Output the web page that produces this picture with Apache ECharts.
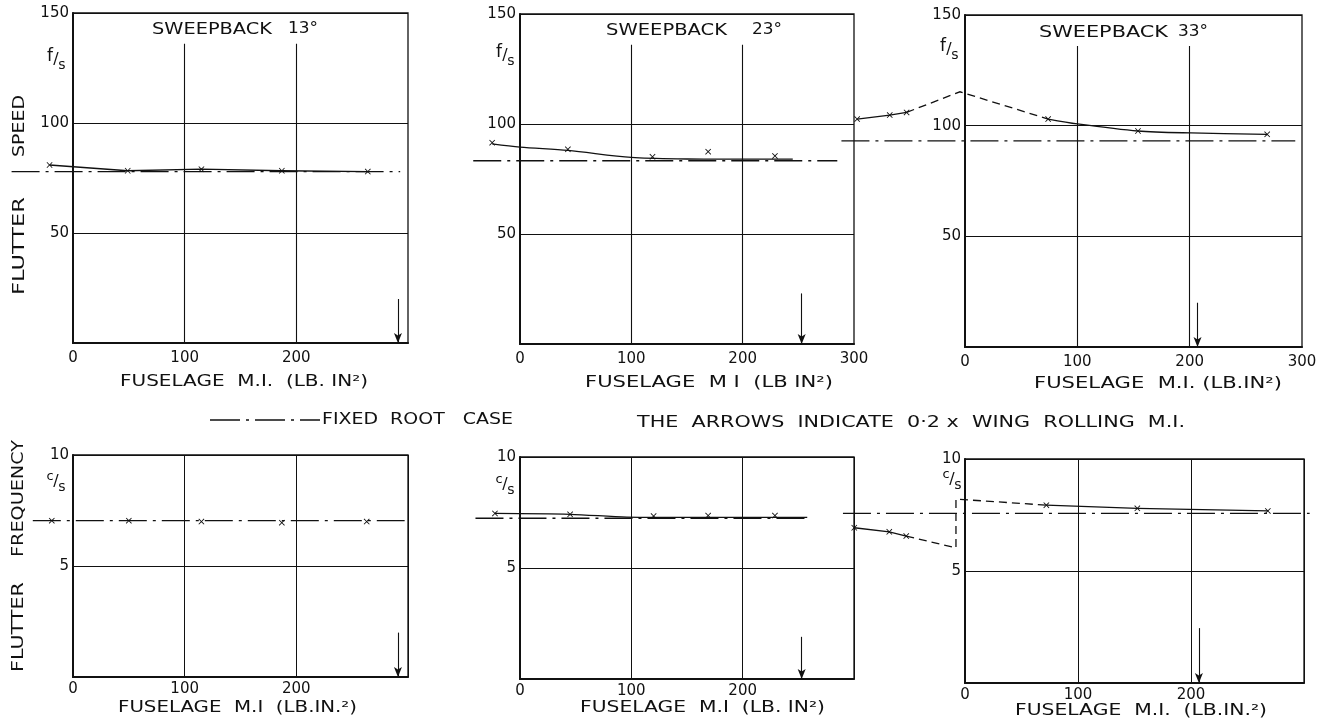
<!DOCTYPE html>
<html><head><meta charset="utf-8">
<script src="https://cdn.jsdelivr.net/npm/echarts@6/dist/echarts.min.js"></script>
<style>html,body{margin:0;padding:0;background:#fff}#c{width:1335px;height:726px}</style>
</head><body><div id="c"></div>
<script>
// ---------------- data ----------------
const xTicks = [0, 100, 200, 300];
const speedTicks = [0, 50, 100, 150];
const freqTicks = [0, 5, 10];
const sweepAngles = ['13°', '23°', '33°'];
const arrowMI = [291, 253, 207];          // 0.2 x wing rolling M.I.
const arrowLenSpeed = [20, 23, 20];
const arrowLenFreq = [2.0, 1.9, 2.45];

// fixed root case (constant)
const fixedRootSpeed = [77.9, 83.3, 93.1];
const fixedRootSpeedFrom = [-55, -42, -110];
const fixedRootSpeedTo = [293, 285, 294];
const fixedRootFreq = [7.04, 7.24, 7.57];
const fixedRootFreqFrom = [-36, -40, -108];
const fixedRootFreqTo = [297, 258, 305];

// sweepback 13
const s13SpeedMI = [-21, 49, 115, 187, 264];
const s13Speed = [80.9, 78.3, 79.0, 78.3, 77.9];
const s13FreqMI = [-19, 50, 115, 187, 263];
const s13Freq = [7.04, 7.04, 7.0, 6.95, 7.0];

// sweepback 23
const s23SpeedMI = [-25, 43, 119, 169, 229];
const s23Speed = [91.5, 88.5, 85.1, 87.4, 85.5];
const s23SpeedCurveMI = [-25, 0, 43, 100, 150, 200, 245];
const s23SpeedCurve = [91.0, 89.5, 88.0, 84.8, 84.1, 84.0, 84.0];
const s23FreqMI = [-22.5, 45, 120, 169, 229];
const s23Freq = [7.46, 7.42, 7.34, 7.36, 7.36];
const s23FreqCurveMI = [-22.5, 45, 96, 150, 200, 258];
const s23FreqCurve = [7.46, 7.42, 7.29, 7.28, 7.28, 7.28];

// sweepback 33
const s33SpeedLowMI = [-96, -67, -52];
const s33SpeedLow = [103.0, 104.8, 106.0];
const s33SpeedDashMI = [-52, -4.5, 74];
const s33SpeedDash = [106.0, 115.3, 103.0];
const s33SpeedMI = [74, 154, 269];
const s33Speed = [103.0, 97.6, 96.1];
const s33SpeedCurveMI = [74, 100, 154, 201, 269];
const s33SpeedCurve = [103.0, 100.8, 97.6, 96.7, 96.1];
const s33FreqLowMI = [-98, -67, -52];
const s33FreqLow = [6.93, 6.75, 6.56];
const s33FreqDashMI = [-52, -8, -8, 72];
const s33FreqDash = [6.56, 6.03, 8.21, 7.94];
const s33FreqMI = [72, 152.5, 268];
const s33Freq = [7.94, 7.80, 7.68];

// ---------------- helpers ----------------
const INK = '#111';
const FONT = '"DejaVu Sans", sans-serif';
const XMARK = 'path://M0,1L1,0L5,4L9,0L10,1L6,5L10,9L9,10L5,6L1,10L0,9L4,5Z';
const DASHDOT = [28, 6, 3, 6];
const DASH = [8, 5];
const zip = (a, b) => a.map((v, i) => [v, b[i]]);

// polyline drawn through the axes' scales (api.coord), not clipped to the grid
function poly(i, xs, ys, dash, smooth) {
  return {
    type: 'custom', xAxisIndex: i, yAxisIndex: i, data: zip(xs, ys),
    clip: false, silent: true, z: 3,
    renderItem: function (params, api) {
      if (params.dataIndex !== 0) return null;
      const pts = xs.map((x, k) => api.coord([x, ys[k]]));
      return {
        type: 'polyline',
        shape: { points: pts, smooth: smooth || 0 },
        style: { stroke: INK, lineWidth: 1.3, fill: null, lineDash: dash || null }
      };
    }
  };
}
function marks(i, xs, ys) {
  return {
    type: 'scatter', xAxisIndex: i, yAxisIndex: i, data: zip(xs, ys),
    symbol: XMARK, symbolSize: 6, clip: false, silent: true, z: 4,
    itemStyle: { color: INK, opacity: 1 }
  };
}
function arrowItem(x, len) {
  return [{ coord: [x, len], symbol: 'none' },
          { coord: [x, 0], symbol: 'arrow', symbolSize: [6, 10] }];
}
function gridItem(x, top) {
  return [{ coord: [x, 0], symbol: 'none' }, { coord: [x, top], symbol: 'none' }];
}
function markHolder(i, ml) {
  return {
    type: 'line', xAxisIndex: i, yAxisIndex: i, data: [], symbol: 'none', silent: true,
    markLine: {
      silent: true, animation: false, label: { show: false },
      lineStyle: { color: INK, width: 1.1, type: 'solid' },
      emphasis: { disabled: true },
      data: ml
    }
  };
}

const gridTopVal = 136;
const series = [];
for (let k = 0; k < 3; k++) {
  const ml = [];
  xTicks.slice(1, 3).forEach(t => ml.push(gridItem(t, gridTopVal)));
  ml.push(arrowItem(arrowMI[k], arrowLenSpeed[k]));
  series.push(markHolder(k, ml));
  series.push(poly(k, [fixedRootSpeedFrom[k], fixedRootSpeedTo[k]], [fixedRootSpeed[k], fixedRootSpeed[k]], DASHDOT));
  series.push(markHolder(3 + k, [arrowItem(arrowMI[k], arrowLenFreq[k])]));
  series.push(poly(3 + k, [fixedRootFreqFrom[k], fixedRootFreqTo[k]], [fixedRootFreq[k], fixedRootFreq[k]], DASHDOT));
}
// sweepback 13
series.push(poly(0, s13SpeedMI, s13Speed));
series.push(marks(0, s13SpeedMI, s13Speed));
series.push(marks(3, s13FreqMI, s13Freq));
// sweepback 23
series.push(poly(1, s23SpeedCurveMI, s23SpeedCurve, null, 0.3));
series.push(marks(1, s23SpeedMI, s23Speed));
series.push(poly(4, s23FreqCurveMI, s23FreqCurve, null, 0.3));
series.push(marks(4, s23FreqMI, s23Freq));
// sweepback 33
series.push(poly(2, s33SpeedLowMI, s33SpeedLow));
series.push(poly(2, s33SpeedDashMI, s33SpeedDash, DASH));
series.push(poly(2, s33SpeedCurveMI, s33SpeedCurve, null, 0.3));
series.push(marks(2, s33SpeedLowMI, s33SpeedLow));
series.push(marks(2, s33SpeedMI, s33Speed));
series.push(poly(5, s33FreqLowMI, s33FreqLow));
series.push(poly(5, s33FreqDashMI, s33FreqDash, DASH));
series.push(poly(5, s33FreqMI, s33Freq));
series.push(marks(5, s33FreqLowMI, s33FreqLow));
series.push(marks(5, s33FreqMI, s33Freq));

// ---------------- layout ----------------
const grids = [
  { left: 73, top: 13, width: 335, height: 330 },
  { left: 520, top: 14, width: 334, height: 330 },
  { left: 965, top: 15, width: 337, height: 332 },
  { left: 73, top: 455, width: 335, height: 222 },
  { left: 520, top: 457, width: 334, height: 222 },
  { left: 965, top: 459, width: 339, height: 224 }
].map(g => Object.assign(g, { show: true, borderColor: INK, borderWidth: 1.3, backgroundColor: 'transparent', containLabel: false, outerBoundsMode: 'none' }));

const xAxes = grids.map((g, i) => ({
  type: 'value', gridIndex: i, min: xTicks[0], max: xTicks[xTicks.length - 1], interval: 100,
  axisLine: { show: true, onZero: false, lineStyle: { color: INK, width: 2 } },
  axisTick: { show: false },
  splitLine: { show: i >= 3, lineStyle: { color: INK, width: 1, type: 'solid' } },
  axisLabel: {
    color: INK, fontFamily: FONT, fontSize: 15, margin: i < 3 ? 8 : 5,
    showMinLabel: true, showMaxLabel: (i === 1 || i === 2)
  }
}));
const yAxes = grids.map((g, i) => {
  const ticks = i < 3 ? speedTicks : freqTicks;
  return {
    type: 'value', gridIndex: i, min: ticks[0], max: ticks[ticks.length - 1],
    interval: ticks[1] - ticks[0],
    axisLine: { show: true, onZero: false, lineStyle: { color: INK, width: 2 } },
    axisTick: { show: false },
    splitLine: { show: true, lineStyle: { color: INK, width: 1, type: 'solid' } },
    axisLabel: { color: INK, fontFamily: FONT, fontSize: 15, margin: 4, showMinLabel: false }
  };
});

// ---------------- texts ----------------
const mctx = document.createElement('canvas').getContext('2d');
function baseStyle(s, size) {
  const f = size + 'px ' + FONT;
  return { text: s, font: f, fill: INK, align: 'center', verticalAlign: 'middle',
           textAlign: 'center', textVerticalAlign: 'middle' };
}
function fitScale(s, size, span) {
  mctx.font = size + 'px ' + FONT;
  return span / mctx.measureText(s).width;
}
function T(s, x1, x2, y, size) {
  return { type: 'text', x: (x1 + x2) / 2, y: y, scaleX: fitScale(s, size, x2 - x1),
           z: 100, silent: true, style: baseStyle(s, size) };
}
function V(s, x, y1, y2, size) {
  return { type: 'text', x: x, y: (y1 + y2) / 2, rotation: Math.PI / 2,
           scaleX: fitScale(s, size, y2 - y1), z: 100, silent: true, style: baseStyle(s, size) };
}
function P(s, x, y, size) {
  return { type: 'text', x: x, y: y, z: 100, silent: true, style: baseStyle(s, size) };
}
function frac(a, b, x, y, big) {
  return [P(a, x - 6, y - (big ? 3 : 5), big ? 17 : 13), P('/', x, y, 16), P(b, x + 6, y + 5, 14)];
}

const graphics = [
  T('SWEEPBACK', 152, 272, 30, 15), T(sweepAngles[0], 288, 318, 29, 15),
  T('SWEEPBACK', 606, 727, 31, 15), T(sweepAngles[1], 752, 782, 30, 15),
  T('SWEEPBACK', 1039, 1168, 33, 15), T(sweepAngles[2], 1178, 1208, 32, 15),
  V('SPEED', 20, 95, 157, 15), V('FLUTTER', 20, 197, 295, 15),
  V('FREQUENCY', 19, 440, 557, 15), V('FLUTTER', 19, 582, 672, 15),
  T('FUSELAGE  M.I.  (LB. IN²)', 120, 368, 382, 15),
  T('FUSELAGE  M I  (LB IN²)', 585, 833, 383, 15),
  T('FUSELAGE  M.I. (LB.IN²)', 1034, 1282, 384, 15),
  T('FUSELAGE  M.I  (LB.IN.²)', 118, 357, 708, 15),
  T('FUSELAGE  M.I  (LB. IN²)', 580, 825, 708, 15),
  T('FUSELAGE  M.I.  (LB.IN.²)', 1015, 1267, 711, 15),
  T('FIXED  ROOT   CASE', 322, 513, 420, 15),
  T('THE  ARROWS  INDICATE  0·2 x  WING  ROLLING  M.I.', 637, 1185, 423, 15),
  { type: 'line', z: 100, silent: true, shape: { x1: 210, y1: 420, x2: 320, y2: 420 },
    style: { stroke: INK, lineWidth: 1.3, lineDash: [30, 6, 3, 6] } }
].concat(
  frac('f', 's', 56, 60, true), frac('f', 's', 505, 56, true), frac('f', 's', 949, 50, true),
  frac('c', 's', 56, 482, false), frac('c', 's', 505, 485, false), frac('c', 's', 952, 480, false)
);

const chart = echarts.init(document.getElementById('c'), null, { renderer: 'canvas' });
chart.setOption({
  animation: false,
  backgroundColor: '#fff',
  grid: grids,
  xAxis: xAxes,
  yAxis: yAxes,
  series: series,
  graphic: { elements: graphics }
});
</script>
</body></html>
